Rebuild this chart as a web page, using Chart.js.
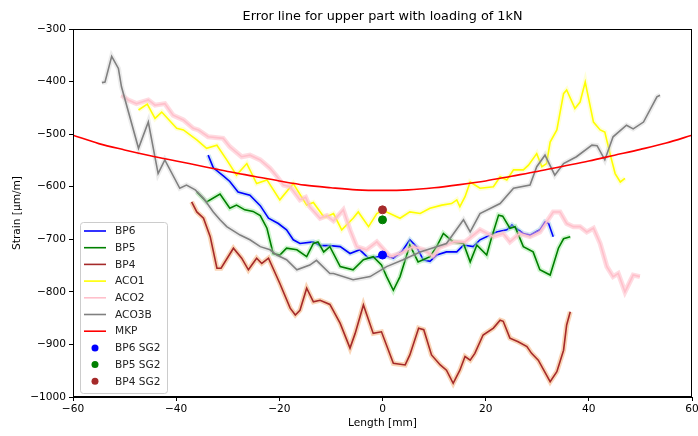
<!DOCTYPE html>
<html>
<head>
<meta charset="utf-8">
<script src="https://cdn.jsdelivr.net/npm/chart.js@4.4.0/dist/chart.umd.min.js"></script>
<style>
    body { margin: 0; background: #fff; }
    canvas { display: block; }
</style>
</head>
<body>
<canvas id="myChart" width="698" height="436"></canvas>
<script>
const chartTitle = 'Error line for upper part with loading of 1kN';
const xTicks = [-60, -40, -20, 0, 20, 40, 60];
const yTicks = [-1000, -900, -800, -700, -600, -500, -400, -300];

const bp6X = [-33.8, -32.8, -30.8, -29.6, -28.0, -25.7, -23.7, -22.1, -20.2, -18.6, -17.3, -16.0, -13.4, -12.1, -10.2, -8.2, -6.3, -4.4, -2.7, -0.8, 0.2, 2.1, 3.7, 5.3, 6.6, 7.9, 9.2, 10.5, 12.4, 14.4, 15.7, 17.6, 18.9, 22.1, 24.1, 25.1, 26.0, 27.3, 28.6, 30.5, 31.5, 32.2, 33.1];
const bp6Y = [-540, -564, -580, -590, -610, -616, -636, -660, -670, -682, -701, -708, -705, -712, -712, -714, -727, -720, -736, -733, -730, -736, -724, -701, -714, -739, -742, -730, -724, -724, -711, -714, -701, -686, -682, -673, -680, -689, -692, -682, -667, -670, -695];

const bp5X = [-36.0, -34.1, -31.5, -29.6, -28.3, -26.7, -25.1, -23.7, -22.4, -21.2, -19.9, -18.6, -16.6, -14.7, -13.4, -12.5, -11.4, -10.2, -8.2, -5.7, -3.7, -1.8, -0.2, 0.8, 2.1, 3.4, 5.3, 6.9, 9.2, 10.5, 11.8, 13.7, 15.7, 17.0, 18.3, 20.2, 21.2, 22.5, 23.3, 24.7, 25.7, 27.3, 29.2, 30.5, 32.5, 34.1, 35.1, 36.4];
const bp5Y = [-610, -629, -614, -641, -635, -644, -647, -655, -679, -727, -730, -717, -720, -733, -708, -705, -724, -714, -752, -758, -739, -733, -749, -771, -797, -771, -711, -743, -733, -714, -689, -705, -708, -743, -711, -730, -695, -654, -656, -679, -676, -714, -724, -758, -768, -717, -699, -695];

const bp4X = [-37.0, -36.0, -34.7, -33.4, -32.1, -31.3, -28.9, -27.3, -26.0, -24.4, -23.4, -22.1, -19.9, -17.9, -16.9, -16.0, -14.7, -13.4, -12.1, -10.2, -8.2, -6.3, -5.3, -3.7, -1.8, -0.2, 2.1, 4.4, 5.3, 7.0, 8.0, 9.5, 11.2, 12.4, 13.7, 15.0, 16.0, 17.0, 17.9, 19.5, 21.5, 22.8, 23.4, 24.7, 26.3, 28.0, 28.9, 30.2, 32.5, 33.8, 35.1, 35.7, 36.4];
const bp4Y = [-629, -648, -660, -695, -755, -755, -717, -736, -758, -736, -746, -736, -784, -831, -844, -835, -793, -819, -816, -824, -860, -907, -879, -825, -879, -876, -936, -939, -920, -869, -872, -920, -939, -949, -974, -949, -923, -930, -917, -882, -869, -854, -856, -888, -895, -904, -917, -930, -971, -952, -911, -863, -838];

const aco1X = [-47.3, -45.6, -44.1, -42.8, -39.9, -38.6, -36.0, -34.1, -32.1, -30.2, -28.3, -26.3, -24.4, -22.4, -19.9, -17.3, -14.7, -13.4, -11.4, -10.8, -9.5, -7.9, -5.7, -4.7, -2.7, -1.1, 0.1, 3.4, 5.3, 7.3, 9.2, 11.5, 13.4, 14.4, 15.0, 16.0, 17.0, 18.9, 21.5, 22.8, 24.1, 25.4, 27.3, 28.3, 29.9, 30.9, 31.8, 32.5, 33.8, 35.1, 35.7, 37.3, 38.3, 39.3, 40.9, 42.2, 43.1, 44.1, 45.1, 46.1, 47.0];
const aco1Y = [-454, -443, -470, -458, -489, -492, -511, -527, -521, -549, -578, -556, -594, -587, -625, -594, -635, -630, -657, -657, -651, -682, -660, -648, -676, -651, -645, -660, -648, -651, -641, -635, -632, -625, -638, -619, -591, -603, -600, -581, -587, -568, -568, -559, -537, -562, -556, -515, -492, -423, -416, -451, -439, -401, -477, -492, -496, -537, -575, -591, -584];

const aco2X = [-50.6, -49.3, -47.7, -45.4, -44.1, -42.2, -40.6, -38.6, -36.7, -35.7, -33.8, -30.9, -29.6, -27.3, -25.7, -23.7, -21.8, -20.5, -19.2, -17.9, -16.0, -14.9, -14.1, -12.1, -10.8, -9.5, -7.6, -6.3, -5.0, -3.1, -1.1, 1.5, 3.4, 6.0, 8.0, 9.9, 11.0, 13.7, 16.0, 18.9, 21.5, 23.4, 24.7, 26.6, 28.6, 30.5, 33.1, 34.4, 35.7, 37.0, 38.3, 39.6, 40.9, 42.2, 43.5, 44.7, 45.7, 47.0, 48.6, 49.9];
const aco2Y = [-426, -435, -442, -435, -445, -442, -464, -473, -489, -492, -505, -508, -524, -543, -540, -549, -565, -580, -597, -600, -625, -620, -638, -660, -655, -665, -644, -682, -714, -720, -705, -733, -727, -714, -720, -733, -716, -705, -705, -682, -695, -689, -705, -689, -695, -686, -648, -648, -670, -676, -676, -686, -679, -708, -752, -771, -765, -800, -768, -771];

const aco3bX = [-54.4, -53.8, -52.5, -51.2, -50.6, -47.3, -45.4, -43.5, -42.2, -39.3, -38.0, -36.3, -34.7, -32.8, -31.5, -30.2, -27.6, -25.7, -23.7, -21.8, -20.5, -18.6, -16.6, -14.1, -12.8, -10.2, -9.5, -5.7, -2.4, 0.8, 4.0, 7.3, 12.4, 15.7, 17.0, 18.9, 22.8, 25.4, 28.6, 29.9, 31.5, 33.4, 35.1, 37.6, 40.6, 41.6, 43.1, 44.7, 47.3, 48.6, 50.6, 53.2, 53.8];
const aco3bY = [-402, -401, -352, -375, -410, -527, -477, -575, -549, -603, -597, -606, -622, -648, -663, -676, -692, -701, -714, -720, -730, -739, -758, -749, -740, -765, -765, -777, -771, -752, -739, -724, -708, -663, -686, -651, -632, -603, -597, -562, -540, -578, -556, -543, -521, -522, -549, -505, -483, -490, -477, -429, -426];

const mkpX = [-60, -55, -50, -45, -40, -35, -30, -25, -20, -15, -10, -5, 0, 5, 10, 15, 20, 25, 30, 35, 40, 45, 50, 55, 60];
const mkpY = [-502, -518, -530, -541, -551, -561, -571, -580, -589, -597, -602, -606, -607, -606, -602, -596, -589, -580, -571, -561, -551, -540, -529, -517, -502];

const sgLabels = ['BP6 SG2', 'BP5 SG2', 'BP4 SG2'];
const sgX = [0, 0, 0];
const sgY = [-730, -663, -644];

function pairs(xs, ys) {
    return xs.map((x, i) => ({ x: x, y: ys[i] }));
}

const series = [
    { label: 'BP6', xs: bp6X, ys: bp6Y, color: 'blue', band: 'rgba(160,205,235,0.5)' },
    { label: 'BP5', xs: bp5X, ys: bp5Y, color: 'green', band: 'rgba(160,235,160,0.5)' },
    { label: 'BP4', xs: bp4X, ys: bp4Y, color: 'brown', band: 'rgba(244,170,110,0.5)' },
    { label: 'ACO1', xs: aco1X, ys: aco1Y, color: 'yellow', band: 'rgba(255,255,170,0.45)' },
    { label: 'ACO2', xs: aco2X, ys: aco2Y, color: 'pink', band: 'rgba(255,190,200,0.55)' },
    { label: 'ACO3B', xs: aco3bX, ys: aco3bY, color: 'gray', band: 'rgba(200,200,200,0.35)' }
];
const sgColors = ['blue', 'green', 'brown'];

const datasets = [];
let order = 100;
series.forEach(s => {
    datasets.push({
        label: '_band_' + s.label,
        data: pairs(s.xs, s.ys),
        borderColor: s.band,
        borderWidth: 5,
        pointRadius: 0,
        tension: 0,
        order: order--
    });
    datasets.push({
        label: s.label,
        legendKind: 'line',
        data: pairs(s.xs, s.ys),
        borderColor: s.color,
        borderWidth: 1.6,
        pointRadius: 0,
        tension: 0,
        order: order--
    });
});
datasets.push({
    label: 'MKP',
    legendKind: 'line',
    data: pairs(mkpX, mkpY),
    borderColor: 'red',
    borderWidth: 1.6,
    pointRadius: 0,
    cubicInterpolationMode: 'monotone',
    order: order--
});
sgLabels.forEach((lab, i) => {
    datasets.push({
        type: 'scatter',
        label: lab,
        legendKind: 'point',
        data: [{ x: sgX[i], y: sgY[i] }],
        backgroundColor: sgColors[i],
        borderColor: sgColors[i],
        pointRadius: 4,
        order: order--
    });
});

const FONT = '"DejaVu Sans", sans-serif';

const decorations = {
    id: 'decorations',
    afterDraw(chart) {
        const ctx = chart.ctx;
        const a = chart.chartArea;
        ctx.save();

        // frame
        ctx.strokeStyle = 'black';
        ctx.lineWidth = 1;
        ctx.strokeRect(Math.round(a.left) + 0.5, Math.round(a.top) + 0.5,
            Math.round(a.right - a.left) - 1, Math.round(a.bottom - a.top) - 1);

        // title
        ctx.fillStyle = 'black';
        ctx.font = '12.8px ' + FONT;
        ctx.textAlign = 'center';
        ctx.textBaseline = 'middle';
        ctx.fillText(chartTitle, (a.left + a.right) / 2, 17);

        // legend
        const items = chart.data.datasets.filter(d => d.legendKind);
        const bx = 80, by = 222, bw = 87, rowH = 16.7;
        const bh = items.length * rowH + 4;
        ctx.fillStyle = 'rgba(255,255,255,0.8)';
        ctx.strokeStyle = '#cccccc';
        ctx.beginPath();
        ctx.roundRect(bx + 0.5, by + 0.5, bw, bh, 3);
        ctx.fill();
        ctx.stroke();

        ctx.font = '10.6px ' + FONT;
        ctx.textAlign = 'left';
        items.forEach((d, i) => {
            const y = by + 9 + i * rowH;
            if (d.legendKind === 'line') {
                ctx.strokeStyle = d.borderColor;
                ctx.lineWidth = 1.6;
                ctx.beginPath();
                ctx.moveTo(84, y);
                ctx.lineTo(106, y);
                ctx.stroke();
            } else {
                ctx.fillStyle = d.backgroundColor;
                ctx.beginPath();
                ctx.arc(95, y, 3.5, 0, Math.PI * 2);
                ctx.fill();
            }
            ctx.fillStyle = '#222';
            ctx.fillText(d.label, 115, y + 0.5);
        });
        ctx.restore();
    }
};

function minusSign(v) {
    return String(v).replace('-', '\u2212');
}

function loadChart() {
    const ctx = document.getElementById('myChart');

    new Chart(ctx, {
        type: 'line',
        data: { datasets: datasets },
        options: {
            responsive: false,
            animation: false,
            devicePixelRatio: 1,
            layout: { padding: { top: 29, right: 6, left: 0, bottom: 0 } },
            plugins: {
                legend: { display: false },
                tooltip: { enabled: false }
            },
            scales: {
                x: {
                    type: 'linear',
                    min: xTicks[0],
                    max: xTicks[xTicks.length - 1],
                    afterBuildTicks: (scale) => { scale.ticks = xTicks.map(v => ({ value: v })); },
                    afterFit: (scale) => {
                        scale.height = 39;
                        scale.paddingLeft = 0;
                        scale.paddingRight = 0;
                    },
                    ticks: {
                        color: 'black',
                        font: { family: FONT, size: 10.6 },
                        padding: 2,
                        maxRotation: 0,
                        callback: (v) => minusSign(v)
                    },
                    grid: { drawOnChartArea: false, drawTicks: true, tickLength: 4, color: 'black' },
                    border: { display: true, color: 'black', width: 1 },
                    title: {
                        display: true,
                        text: 'Length [mm]',
                        color: 'black',
                        font: { family: FONT, size: 10.6 },
                        padding: { top: 0, bottom: 6 }
                    }
                },
                y: {
                    type: 'linear',
                    min: yTicks[0],
                    max: yTicks[yTicks.length - 1],
                    afterBuildTicks: (scale) => { scale.ticks = yTicks.map(v => ({ value: v })); },
                    afterFit: (scale) => {
                        scale.width = 73;
                        scale.paddingTop = 0;
                        scale.paddingBottom = 0;
                    },
                    ticks: {
                        color: 'black',
                        font: { family: FONT, size: 10.6 },
                        padding: 3,
                        callback: (v) => minusSign(v)
                    },
                    grid: { drawOnChartArea: false, drawTicks: true, tickLength: 4, color: 'black' },
                    border: { display: true, color: 'black', width: 1 },
                    title: {
                        display: true,
                        text: 'Strain [\u03bcm/m]',
                        color: 'black',
                        font: { family: FONT, size: 10.6 },
                        padding: { top: 11, bottom: 0 }
                    }
                }
            }
        },
        plugins: [decorations]
    });
}

loadChart();
</script>
</body>
</html>
